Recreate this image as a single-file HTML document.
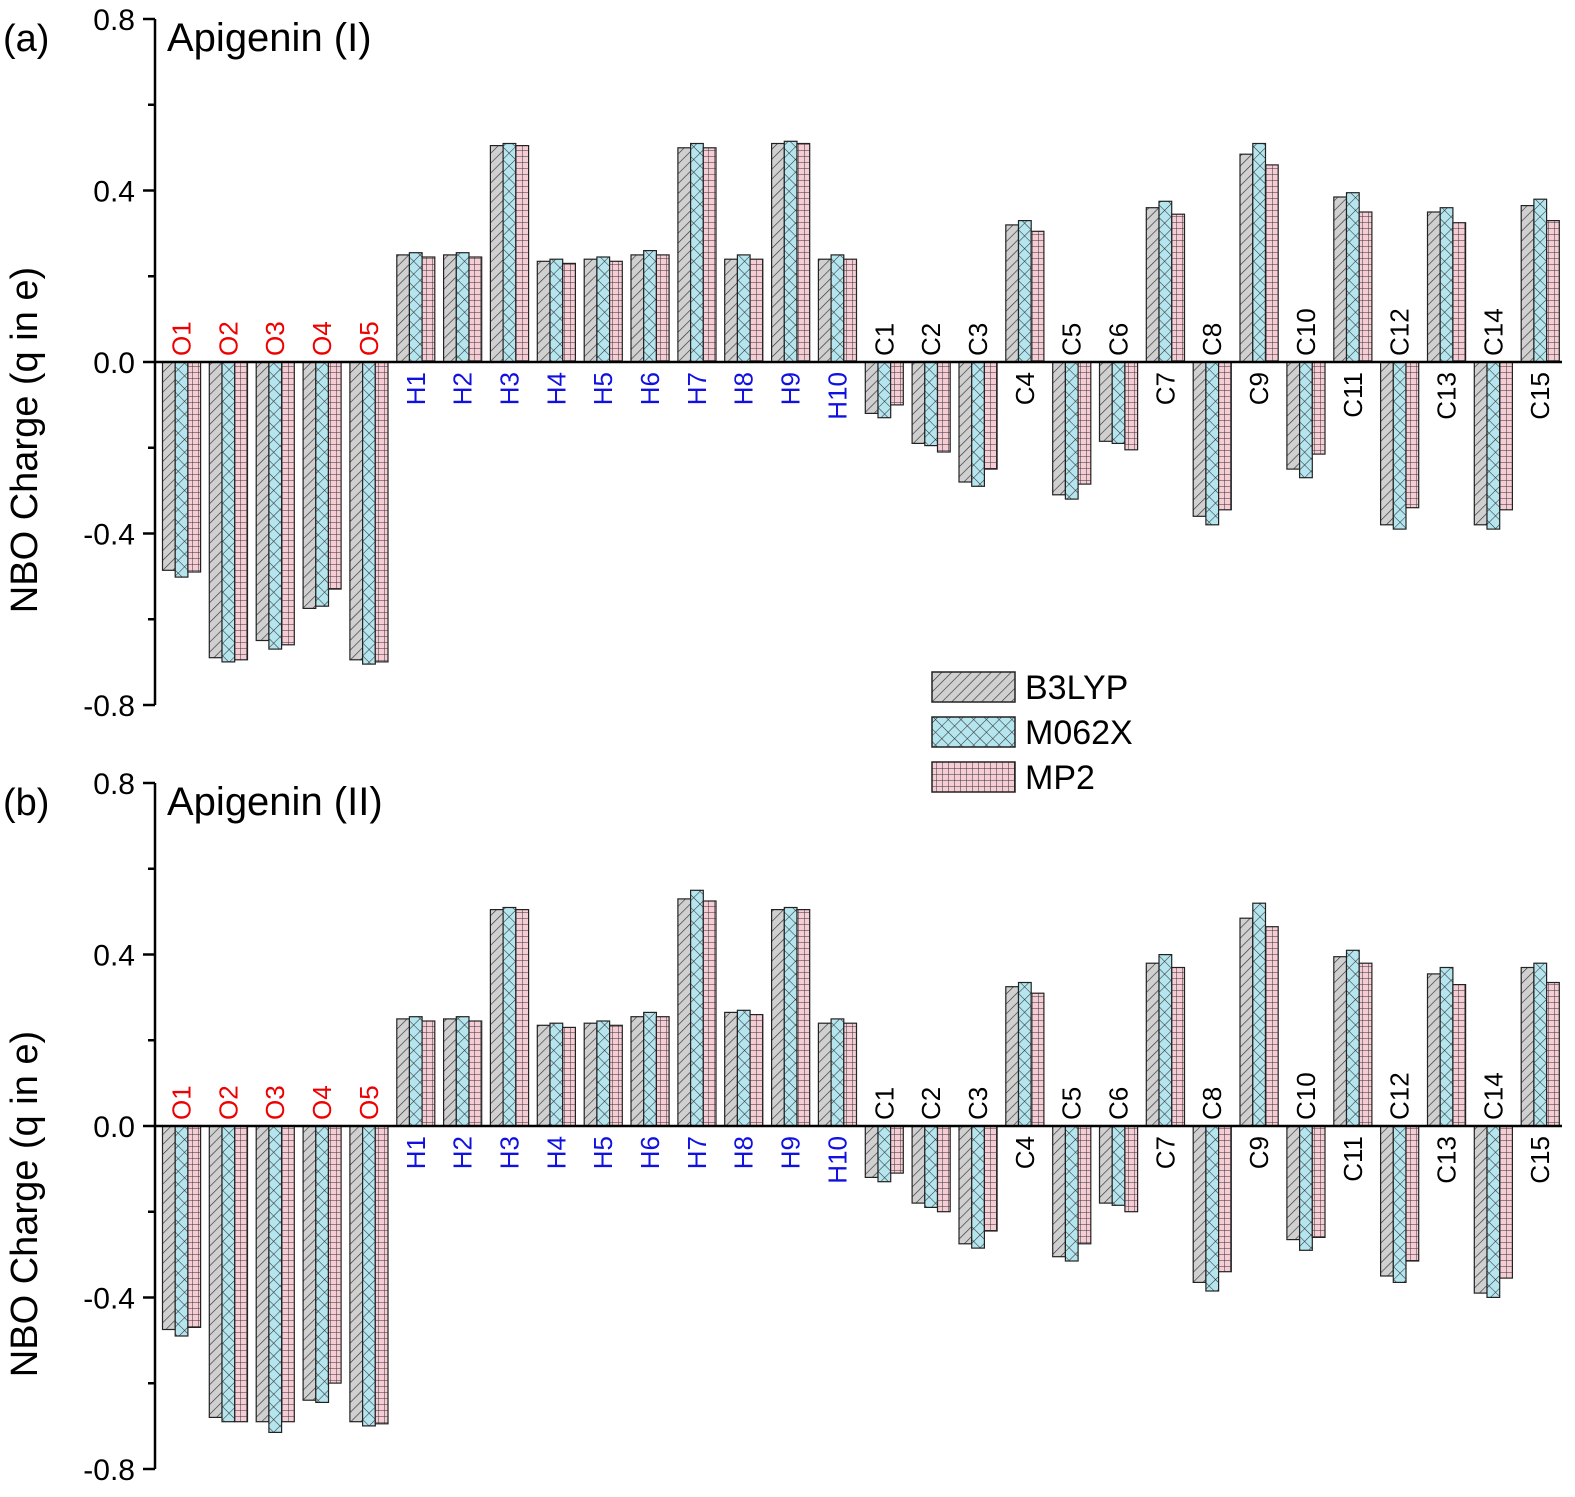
<!DOCTYPE html>
<html><head><meta charset="utf-8"><style>
html,body{margin:0;padding:0;background:#fff;}
svg text{font-family:"Liberation Sans",Arial,sans-serif;}
</style></head><body>
<svg id="s" width="1575" height="1492" viewBox="0 0 1575 1492" xmlns="http://www.w3.org/2000/svg">
<defs>
<pattern id="pb" patternUnits="userSpaceOnUse" width="7" height="7" patternTransform="rotate(45)">
<rect width="7" height="7" fill="#d0d0d0"/><line x1="0" y1="0" x2="0" y2="7" stroke="#333" stroke-width="1.3"/></pattern>
<pattern id="pm" patternUnits="userSpaceOnUse" width="9" height="9" patternTransform="rotate(45)">
<rect width="9" height="9" fill="#b5e6ef"/><line x1="0" y1="0" x2="9" y2="0" stroke="#333" stroke-width="1.1"/><line x1="0" y1="0" x2="0" y2="9" stroke="#333" stroke-width="1.1"/></pattern>
<pattern id="pp" patternUnits="userSpaceOnUse" width="6" height="6">
<rect width="6" height="6" fill="#f6cdd4"/><line x1="0" y1="0" x2="6" y2="0" stroke="#333" stroke-width="1"/><line x1="0" y1="0" x2="0" y2="6" stroke="#333" stroke-width="1"/></pattern>
</defs>
<g id="g"></g>
</svg>
<script>
var labels=["O1","O2","O3","O4","O5","H1","H2","H3","H4","H5","H6","H7","H8","H9","H10","C1","C2","C3","C4","C5","C6","C7","C8","C9","C10","C11","C12","C13","C14","C15"];
var A=[[-.486,-.502,-.49],[-.69,-.70,-.695],[-.65,-.67,-.66],[-.575,-.57,-.53],[-.695,-.705,-.70],
[.25,.255,.245],[.25,.255,.245],[.505,.51,.505],[.235,.24,.23],[.24,.245,.235],[.25,.26,.25],[.50,.51,.50],[.24,.25,.24],[.51,.515,.51],[.24,.25,.24],
[-.12,-.13,-.10],[-.19,-.195,-.21],[-.28,-.29,-.25],[.32,.33,.305],[-.31,-.32,-.285],[-.185,-.19,-.205],[.36,.375,.345],[-.36,-.38,-.345],[.485,.51,.46],[-.25,-.27,-.215],[.385,.395,.35],[-.38,-.39,-.34],[.35,.36,.325],[-.38,-.39,-.345],[.365,.38,.33]];
var B=[[-.475,-.49,-.47],[-.68,-.69,-.69],[-.69,-.715,-.69],[-.64,-.645,-.60],[-.69,-.70,-.695],
[.25,.255,.245],[.25,.255,.245],[.505,.51,.505],[.235,.24,.23],[.24,.245,.235],[.255,.265,.255],[.53,.55,.525],[.265,.27,.26],[.505,.51,.505],[.24,.25,.24],
[-.12,-.13,-.11],[-.18,-.19,-.20],[-.275,-.285,-.245],[.325,.335,.31],[-.305,-.315,-.275],[-.18,-.185,-.20],[.38,.40,.37],[-.365,-.385,-.34],[.485,.52,.465],[-.265,-.29,-.26],[.395,.41,.38],[-.35,-.365,-.315],[.355,.37,.33],[-.39,-.40,-.355],[.37,.38,.335]];
var h="";var fills=["url(#pb)","url(#pm)","url(#pp)"];
function panel(data,y0,tag,title){
 var k=428.5;
 for(var i=0;i<30;i++){
  var cx=181.5+i*46.85;
  for(var j=0;j<3;j++){
   var v=data[i][j],x=cx-19+j*12.7,yy=v>=0?y0-v*k:y0,hh=Math.abs(v)*k;
   h+='<rect x="'+x.toFixed(1)+'" y="'+yy.toFixed(1)+'" width="12.7" height="'+hh.toFixed(1)+'" fill="'+fills[j]+'" stroke="#222" stroke-width="1.2"/>';
  }
  var col=labels[i][0]=="O"?"#e00":labels[i][0]=="H"?"#1010e0":"#000";
  var neg=data[i][0]<0;
  var tx=cx+9;
  if(neg) h+='<text x="'+tx+'" y="'+(y0-6)+'" transform="rotate(-90 '+tx+' '+(y0-6)+')" font-size="26" fill="'+col+'">'+labels[i]+'</text>';
  else h+='<text x="'+tx+'" y="'+(y0+10)+'" transform="rotate(-90 '+tx+' '+(y0+10)+')" font-size="26" fill="'+col+'" text-anchor="end">'+labels[i]+'</text>';
 }
 h+='<line x1="155" y1="'+y0+'" x2="1562" y2="'+y0+'" stroke="#000" stroke-width="2.5"/>';
 h+='<line x1="155" y1="'+(y0-343)+'" x2="155" y2="'+(y0+343)+'" stroke="#000" stroke-width="2.5"/>';
 var tl=["0.8","0.4","0.0","-0.4","-0.8"];
 for(var t=0;t<=8;t++){
  var ty=y0-343+t*85.75;
  h+='<line x1="'+(t%2==0?143:148)+'" y1="'+ty+'" x2="155" y2="'+ty+'" stroke="#000" stroke-width="2.5"/>';
  if(t%2==0) h+='<text x="135" y="'+(ty+11)+'" font-size="30" text-anchor="end">'+tl[t/2]+'</text>';
 }
 var ym=y0+78;
 h+='<text x="37" y="'+ym+'" transform="rotate(-90 37 '+ym+')" font-size="38" text-anchor="middle">NBO Charge (q in e)</text>';
 h+='<text x="3" y="'+(y0-311)+'" font-size="38">'+tag+'</text>';
 h+='<text x="167" y="'+(y0-311)+'" font-size="40">'+title+'</text>';
}
panel(A,362,"(a)","Apigenin (I)");
panel(B,1126,"(b)","Apigenin (II)");
var ly=[672,717,762],ln=["B3LYP","M062X","MP2"];
for(var j=0;j<3;j++){h+='<rect x="932" y="'+ly[j]+'" width="83" height="30" fill="'+fills[j]+'" stroke="#222" stroke-width="1.5"/>';
h+='<text x="1025" y="'+(ly[j]+27)+'" font-size="34">'+ln[j]+'</text>';}
document.getElementById("g").innerHTML=h;
</script>
</body></html>
